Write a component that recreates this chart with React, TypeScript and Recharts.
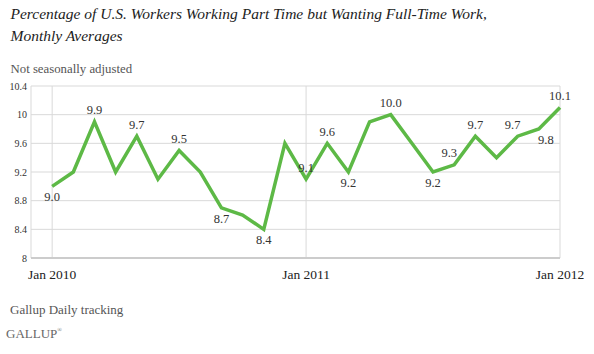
import React from 'react';
import { LineChart, Line, XAxis, YAxis, CartesianGrid, LabelList } from 'recharts';

const months = [
  'Jan 2010', 'Feb 2010', 'Mar 2010', 'Apr 2010', 'May 2010', 'Jun 2010',
  'Jul 2010', 'Aug 2010', 'Sep 2010', 'Oct 2010', 'Nov 2010', 'Dec 2010',
  'Jan 2011', 'Feb 2011', 'Mar 2011', 'Apr 2011', 'May 2011', 'Jun 2011',
  'Jul 2011', 'Aug 2011', 'Sep 2011', 'Oct 2011', 'Nov 2011', 'Dec 2011',
  'Jan 2012',
];

const partTimeWantingFullTime = [
  9.0, 9.2, 9.9, 9.2, 9.7, 9.1, 9.5, 9.2, 8.7, 8.6, 8.4, 9.6,
  9.1, 9.6, 9.2, 9.9, 10.0, 9.6, 9.2, 9.3, 9.7, 9.4, 9.7, 9.8,
  10.1,
];

const yTicks = [8, 8.4, 8.8, 9.2, 9.6, 10, 10.4];
const xTickIndices = [0, 12, 24];

// which points carry a value label, and on which side
const labelSide: Record<number, string> = {
  0: 'below', 2: 'above', 4: 'above', 6: 'above', 8: 'below', 10: 'below',
  12: 'above', 13: 'above', 14: 'below', 16: 'above', 18: 'below',
  19: 'aboveLeft', 20: 'above', 22: 'aboveLeft', 23: 'belowRight', 24: 'above',
};

const data = months.map((m, i) => ({ i, month: m, value: partTimeWantingFullTime[i] }));

const serif = '"Liberation Serif", serif';

const PointLabel = (props: any) => {
  const { x, y, index, value } = props;
  const side = labelSide[index];
  if (!side || x == null || y == null) return null;
  let dx = 0;
  let dy = -7.5;
  if (side === 'below') dy = 15;
  if (side === 'aboveLeft') { dx = -5; dy = -7.5; }
  if (side === 'belowRight') { dx = 7; dy = 15; }
  return (
    <text
      x={x + dx}
      y={y + dy}
      textAnchor="middle"
      fontFamily={serif}
      fontSize={12.5}
      fill="#333"
    >
      {Number(value).toFixed(1)}
    </text>
  );
};

export default function App() {
  return (
    <div style={{ position: 'absolute', left: 0, top: 0, width: 594, height: 354, background: '#fff' }}>
      <LineChart
        width={594}
        height={354}
        data={data}
        margin={{ top: 86, right: 34, bottom: 66, left: 0 }}
      >
        <CartesianGrid stroke="#d9d9d9" strokeWidth={1} />
        <XAxis
          dataKey="i"
          type="number"
          domain={[-1, 24]}
          ticks={xTickIndices}
          tickFormatter={(v: number) => months[v]}
          height={30}
          tickLine={false}
          tickSize={0}
          tickMargin={11}
          axisLine={{ stroke: '#cccccc', strokeWidth: 2 }}
          tick={{ fontFamily: serif, fontSize: 13.5, fill: '#222' }}
          interval={0}
        />
        <YAxis
          type="number"
          domain={[8, 10.4]}
          ticks={yTicks}
          width={31}
          axisLine={false}
          tickLine={false}
          tickSize={0}
          tickMargin={4}
          tick={{ fontFamily: serif, fontSize: 10, fill: '#333' }}
          interval={0}
        />
        <Line
          type="linear"
          dataKey="value"
          stroke="#5db946"
          strokeWidth={3.5}
          dot={false}
          isAnimationActive={false}
        >
          <LabelList dataKey="value" content={PointLabel} />
        </Line>
      </LineChart>
      <svg
        width={594}
        height={354}
        style={{ position: 'absolute', left: 0, top: 0, pointerEvents: 'none' }}
      >
        <text x={10.5} y={19} fontFamily={serif} fontStyle="italic" fontSize={15.5} fill="#222">
          Percentage of U.S. Workers Working Part Time but Wanting Full-Time Work,
        </text>
        <text x={10.5} y={40.7} fontFamily={serif} fontStyle="italic" fontSize={15.5} fill="#222">
          Monthly Averages
        </text>
        <text x={10.5} y={72.5} fontFamily={serif} fontSize={12.8} fill="#555">
          Not seasonally adjusted
        </text>
        <text x={10} y={314} fontFamily={serif} fontSize={13} fill="#555">
          Gallup Daily tracking
        </text>
        <text x={6} y={338} fontFamily={serif} fontSize={13} fill="#666">
          GALLUP
          <tspan fontSize={6} dy={-6}>®</tspan>
        </text>
      </svg>
    </div>
  );
}
